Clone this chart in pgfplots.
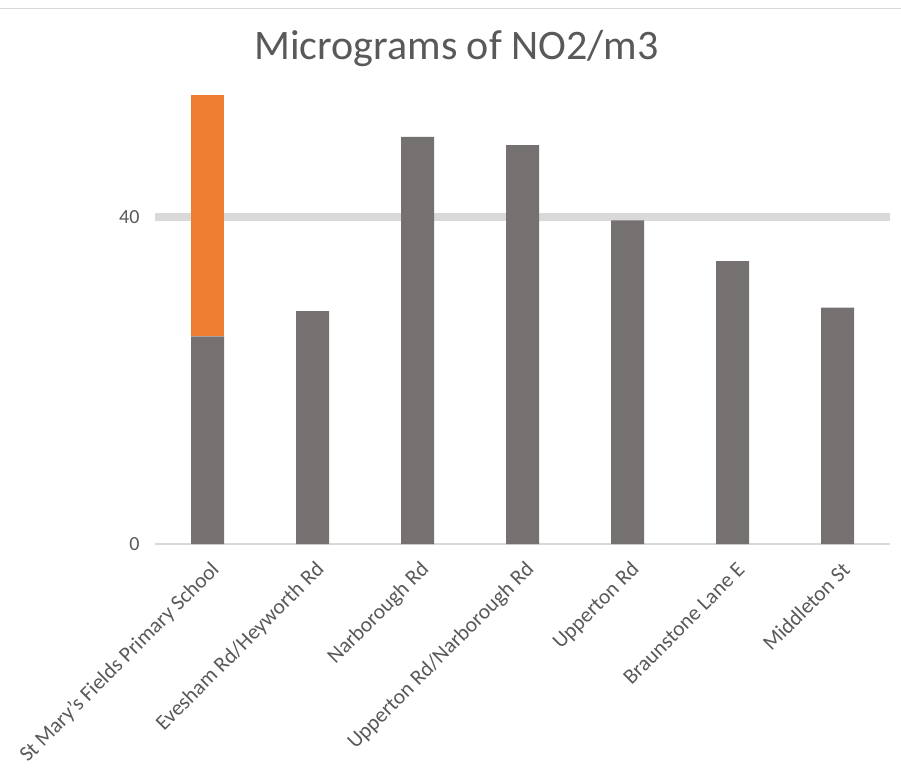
\documentclass[border=0pt]{standalone}
\usepackage{fontspec}
\setmainfont{Carlito}
\usepackage{pgfplots}
\pgfplotsset{compat=1.18}
\definecolor{barGray}{HTML}{767171}
\definecolor{barOrange}{HTML}{ED7D31}
\definecolor{txtGray}{HTML}{595959}
\definecolor{gridGray}{HTML}{D9D9D9}
\begin{document}
\begin{tikzpicture}[x=1pt,y=1pt]
\useasboundingbox (0,0) rectangle (901,773);
\draw[gridGray, line width=1pt] (0,764) -- (901,764);
\node[anchor=base, text=txtGray, font=\fontsize{42}{48}\selectfont] at (456.5,713) {Micrograms of NO2/m3};
\begin{axis}[
    at={(155pt,229pt)}, anchor=south west,
    scale only axis,
    width=735pt, height=457.8pt,
    xmin=-0.5, xmax=6.5,
    ymin=0, ymax=56,
    ybar stacked, bar width=33pt,
    axis line style={draw=none},
    tick style={draw=none},
    ytick={40},
    ymajorgrids,
    grid style={gridGray, line width=7.5pt},
    extra y ticks={0},
    extra y tick style={grid style={gridGray, line width=1.5pt}},
    /pgf/number format/assume math mode=true,
    yticklabel style={text=txtGray, font=\fontsize{20}{23}\selectfont, xshift=-12pt},
    xtick={0,...,6},
    xticklabels={St Mary's Fields Primary School, Evesham Rd/Heyworth Rd, Narborough Rd, Upperton Rd/Narborough Rd, Upperton Rd, Braunstone Lane E, Middleton St},
    xticklabel style={xshift=11pt, yshift=-20pt, rotate=45, anchor=east, text=txtGray, font=\fontsize{21.5}{25}\selectfont},
]
\addplot[fill=barGray, draw=none] coordinates {(0,25.4) (1,28.5) (2,49.8) (3,48.8) (4,39.6) (5,34.6) (6,28.9)};
\addplot[fill=barOrange, draw=none] coordinates {(0,29.5)};
\end{axis}
\end{tikzpicture}
\end{document}
